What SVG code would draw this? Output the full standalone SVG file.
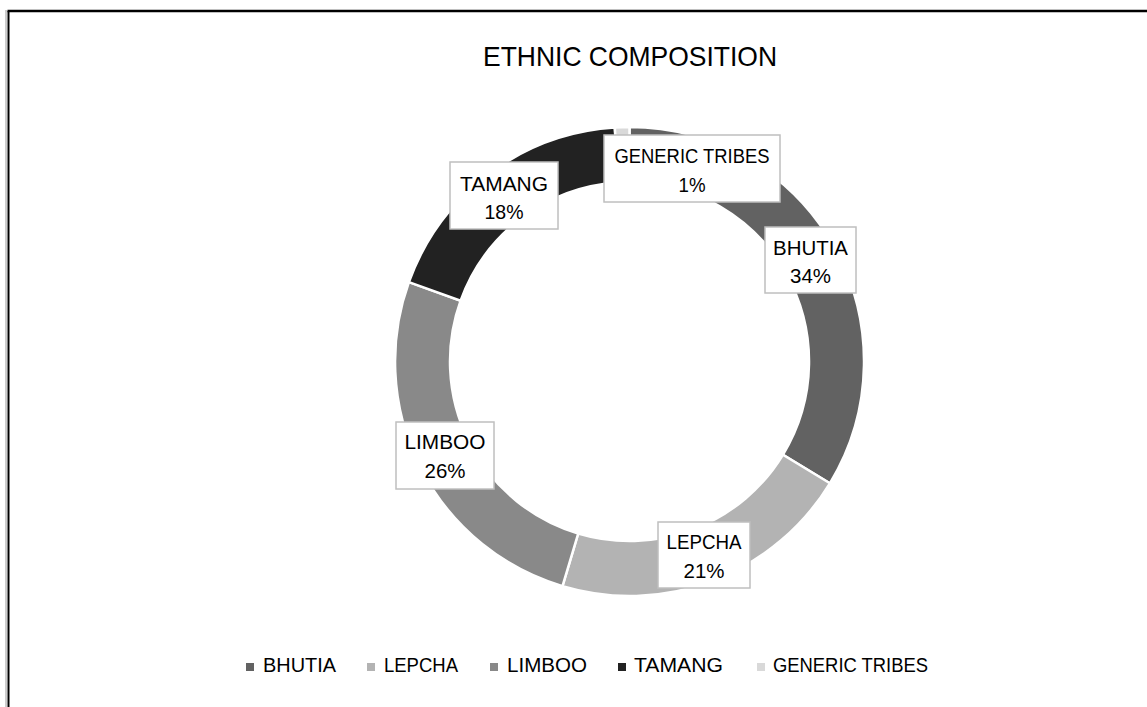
<svg xmlns="http://www.w3.org/2000/svg" width="1147" height="707" viewBox="0 0 1147 707">
<style>
  text { font-family: "Liberation Sans", Arial, sans-serif; fill: #000; }
  .title { font-size: 28px; }
  .lbl { font-size: 20.5px; text-anchor: middle; }
  .leg { font-size: 20px; }
  .box { fill: #fff; stroke: #bfbfbf; stroke-width: 1.5; }
  .slice { stroke: #fff; stroke-width: 2.5; stroke-linejoin: miter; }
</style>
<rect x="0" y="0" width="1147" height="707" fill="#fff"/>
<g id="frame">
  <line x1="6" y1="10" x2="6" y2="707" stroke="#999" stroke-width="1"/>
  <line x1="8.5" y1="11" x2="8.5" y2="707" stroke="#000" stroke-width="2"/>
  <line x1="7.5" y1="11" x2="1147" y2="11" stroke="#000" stroke-width="2.5"/>
</g>
<text class="title" x="630" y="66" text-anchor="middle" textLength="294" lengthAdjust="spacingAndGlyphs">ETHNIC COMPOSITION</text>
<g id="ring">
  <g id="slice-bhutia"><path class="slice" fill="#626262" d="M629.5,127 A234.5,234.5 0 0 1 829.9,483.3 L782.9,454.75 A179.5,179.5 0 0 0 629.5,182 Z"/></g>
  <g id="slice-lepcha"><path class="slice" fill="#b3b3b3" d="M829.9,483.3 A234.5,234.5 0 0 1 562.5,586.2 L578.2,533.5 A179.5,179.5 0 0 0 782.9,454.75 Z"/></g>
  <g id="slice-limboo"><path class="slice" fill="#898989" d="M562.5,586.2 A234.5,234.5 0 0 1 408.9,282.1 L460.6,300.7 A179.5,179.5 0 0 0 578.2,533.5 Z"/></g>
  <g id="slice-tamang"><path class="slice" fill="#222222" d="M408.9,282.1 A234.5,234.5 0 0 1 614.8,127.5 L618.2,182.4 A179.5,179.5 0 0 0 460.6,300.7 Z"/></g>
  <g id="slice-generic"><path class="slice" fill="#d9d9d9" d="M614.8,127.5 A234.5,234.5 0 0 1 629.5,127 L629.5,182 A179.5,179.5 0 0 0 618.2,182.4 Z"/></g>
</g>
<g id="label-generic">
  <rect class="box" x="604" y="135" width="176" height="67"/>
  <text class="lbl" x="692" y="163" textLength="155" lengthAdjust="spacingAndGlyphs">GENERIC TRIBES</text>
  <text class="lbl" x="692" y="192" textLength="27" lengthAdjust="spacingAndGlyphs">1%</text>
</g>
<g id="label-tamang">
  <rect class="box" x="450" y="162" width="108" height="67"/>
  <text class="lbl" x="504" y="191" textLength="88" lengthAdjust="spacingAndGlyphs">TAMANG</text>
  <text class="lbl" x="504" y="219" textLength="39" lengthAdjust="spacingAndGlyphs">18%</text>
</g>
<g id="label-bhutia">
  <rect class="box" x="765" y="227" width="91" height="66"/>
  <text class="lbl" x="810.5" y="255" textLength="75" lengthAdjust="spacingAndGlyphs">BHUTIA</text>
  <text class="lbl" x="810.5" y="283" textLength="41" lengthAdjust="spacingAndGlyphs">34%</text>
</g>
<g id="label-limboo">
  <rect class="box" x="396" y="422" width="98" height="67"/>
  <text class="lbl" x="445" y="449" textLength="81" lengthAdjust="spacingAndGlyphs">LIMBOO</text>
  <text class="lbl" x="445" y="478" textLength="41" lengthAdjust="spacingAndGlyphs">26%</text>
</g>
<g id="label-lepcha">
  <rect class="box" x="658" y="522" width="92" height="66"/>
  <text class="lbl" x="704" y="549" textLength="75" lengthAdjust="spacingAndGlyphs">LEPCHA</text>
  <text class="lbl" x="704" y="578" textLength="41" lengthAdjust="spacingAndGlyphs">21%</text>
</g>
<g id="legend">
  <rect x="246" y="663" width="8" height="8" fill="#626262"/>
  <text class="leg" x="263" y="672" textLength="73" lengthAdjust="spacingAndGlyphs">BHUTIA</text>
  <rect x="367" y="663" width="8" height="8" fill="#b3b3b3"/>
  <text class="leg" x="384" y="672" textLength="74" lengthAdjust="spacingAndGlyphs">LEPCHA</text>
  <rect x="490" y="663" width="8" height="8" fill="#898989"/>
  <text class="leg" x="507" y="672" textLength="80" lengthAdjust="spacingAndGlyphs">LIMBOO</text>
  <rect x="618" y="663" width="8" height="8" fill="#222222"/>
  <text class="leg" x="634" y="672" textLength="89" lengthAdjust="spacingAndGlyphs">TAMANG</text>
  <rect x="757" y="663" width="8" height="8" fill="#d9d9d9"/>
  <text class="leg" x="773" y="672" textLength="155" lengthAdjust="spacingAndGlyphs">GENERIC TRIBES</text>
</g>
</svg>
